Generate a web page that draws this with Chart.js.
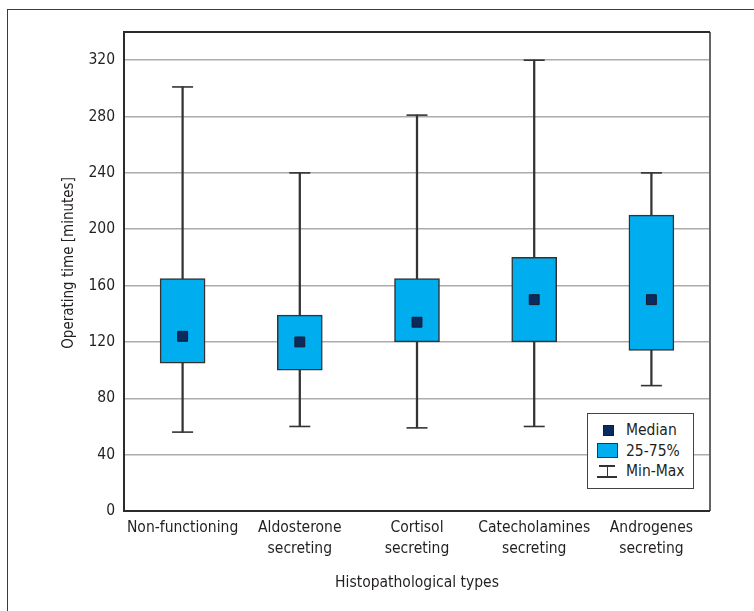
<!DOCTYPE html>
<html>
<head>
<meta charset="utf-8">
<script src="https://cdn.jsdelivr.net/npm/chart.js@4.4.1/dist/chart.umd.min.js"></script>
<style>
  html, body { margin: 0; padding: 0; background: #fff; }
  #wrap { position: relative; width: 754px; height: 611px; overflow: hidden; }
  #frame {
    position: absolute; left: 7px; top: 9px; width: 800px; height: 700px;
    border-left: 1.5px solid #3a3a3a; border-top: 1.5px solid #3a3a3a;
    box-sizing: border-box;
  }
  canvas { position: absolute; left: 0; top: 0; }
  #legend {
    position: absolute; left: 587px; top: 413px; width: 107px; height: 76px;
    box-sizing: border-box; border: 1.5px solid #444; background: #fff;
    font-family: "DejaVu Sans Condensed", "Liberation Sans Narrow", sans-serif;
    font-size: 15.5px; color: #231f20;
  }
  .row { position: absolute; left: 0; height: 20px; width: 100%; }
  .row span.lbl { position: absolute; left: 38px; top: 0; line-height: 20px; white-space: nowrap; }
  .sym { position: absolute; }
</style>
</head>
<body>
<div id="wrap">
  <div id="frame"></div>
  <canvas id="chart" width="754" height="611"></canvas>
  <div id="legend">
    <div class="row" style="top:6px">
      <div class="sym" style="left:15px;top:5px;width:9px;height:9px;background:#0b2b5e;border:1px solid #1a1a2e;"></div>
      <span class="lbl">Median</span>
    </div>
    <div class="row" style="top:27px">
      <div class="sym" style="left:9px;top:2px;width:21px;height:15px;box-sizing:border-box;background:#00adef;border:1.5px solid #333;"></div>
      <span class="lbl">25-75%</span>
    </div>
    <div class="row" style="top:47px">
      <div class="sym" style="left:11px;top:4px;width:16px;height:1.5px;background:#333;"></div>
      <div class="sym" style="left:18.5px;top:4px;width:1.5px;height:12px;background:#333;"></div>
      <div class="sym" style="left:9px;top:15px;width:20px;height:1.5px;background:#333;"></div>
      <span class="lbl">Min-Max</span>
    </div>
  </div>
</div>
<script>
// Operating time by histopathological type (box = 25-75%, whiskers = min-max)
const categories = [
  ["Non-functioning"],
  ["Aldosterone", "secreting"],
  ["Cortisol", "secreting"],
  ["Catecholamines", "secreting"],
  ["Androgenes", "secreting"],
];
const minVals = [56, 60, 59, 60, 89];
const q1Vals = [105, 100, 120, 120, 114];
const medianVals = [124, 120, 134, 150, 150];
const q3Vals = [165, 139, 165, 180, 210];
const maxVals = [301, 240, 281, 320, 240];
const yTicks = [0, 40, 80, 120, 160, 200, 240, 280, 320];

const FONT = "'DejaVu Sans Condensed', 'Liberation Sans Narrow', sans-serif";
const TEXT = "#231f20";

// plot frame (all four sides)
const frameBorder = {
  id: "frameBorder",
  beforeDatasetsDraw(chart) {
    const { ctx, chartArea: a } = chart;
    ctx.save();
    ctx.lineWidth = 2;
    ctx.strokeStyle = "#666";
    ctx.beginPath();
    ctx.moveTo(a.right, a.top);
    ctx.lineTo(a.right, a.bottom);
    ctx.stroke();
    ctx.strokeStyle = "#2b2b2b";
    ctx.beginPath();
    ctx.moveTo(a.right, a.top);
    ctx.lineTo(a.left, a.top);
    ctx.lineTo(a.left, a.bottom);
    ctx.lineTo(a.right, a.bottom);
    ctx.stroke();
    ctx.restore();
  },
};

const ctx = document.getElementById("chart");

new Chart(ctx, {
  type: "bar",
  data: {
    labels: categories,
    datasets: [
      {
        type: "line",
        label: "Median",
        data: medianVals,
        showLine: false,
        pointStyle: "rect",
        pointRadius: 7,
        pointBackgroundColor: "#0b2b5e",
        pointBorderColor: "#1a1a2e",
        pointBorderWidth: 1,
        order: 0,
      },
      {
        label: "25-75%",
        data: q1Vals.map((q, i) => [q, q3Vals[i]]),
        backgroundColor: "#00adef",
        borderColor: "#333",
        borderWidth: 1.5,
        borderSkipped: false,
        barThickness: 45,
        grouped: false,
        order: 1,
      },
      {
        label: "Min-Max",
        data: minVals.map((m, i) => [m, maxVals[i]]),
        backgroundColor: "#333",
        borderWidth: 0,
        barThickness: 1.6,
        grouped: false,
        order: 2,
      },
      {
        type: "line",
        label: "Max cap",
        data: maxVals,
        showLine: false,
        pointStyle: "line",
        pointRadius: 10.5,
        pointBorderColor: "#333",
        pointBorderWidth: 1.6,
        order: 3,
      },
      {
        type: "line",
        label: "Min cap",
        data: minVals,
        showLine: false,
        pointStyle: "line",
        pointRadius: 10.5,
        pointBorderColor: "#333",
        pointBorderWidth: 1.6,
        order: 3,
      },
    ],
  },
  options: {
    responsive: false,
    animation: false,
    layout: { padding: { left: 60, right: 44, top: 32, bottom: 0 } },
    plugins: {
      legend: { display: false },
      tooltip: { enabled: false },
    },
    scales: {
      x: {
        grid: { display: false, drawTicks: false },
        border: { display: false },
        ticks: {
          color: TEXT,
          padding: 7,
          maxRotation: 0,
          autoSkip: false,
          font: { family: FONT, size: 15.5, lineHeight: 1.35 },
        },
        title: {
          display: true,
          text: "Histopathological types",
          color: TEXT,
          padding: { top: 0, bottom: 19 },
          font: { family: FONT, size: 15.5 },
        },
        afterFit(scale) {
          scale.height = 100;
        },
      },
      y: {
        min: 0,
        max: 340,
        grid: { color: "#acacac", lineWidth: 1.5, drawTicks: false },
        border: { display: false },
        afterBuildTicks(scale) {
          scale.ticks = yTicks.map((v) => ({ value: v }));
        },
        ticks: {
          color: TEXT,
          padding: 9,
          font: { family: FONT, size: 15.5 },
        },
        title: {
          display: true,
          // leading spaces nudge the rotated title up to where the original sits
          text: "\u00a0\u00a0\u00a0\u00a0Operating time [minutes]",
          color: TEXT,
          padding: { top: 0, bottom: 0 },
          font: { family: FONT, size: 15 },
        },
        afterFit(scale) {
          scale.width = 64;
        },
      },
    },
  },
  plugins: [frameBorder],
});
</script>
</body>
</html>
